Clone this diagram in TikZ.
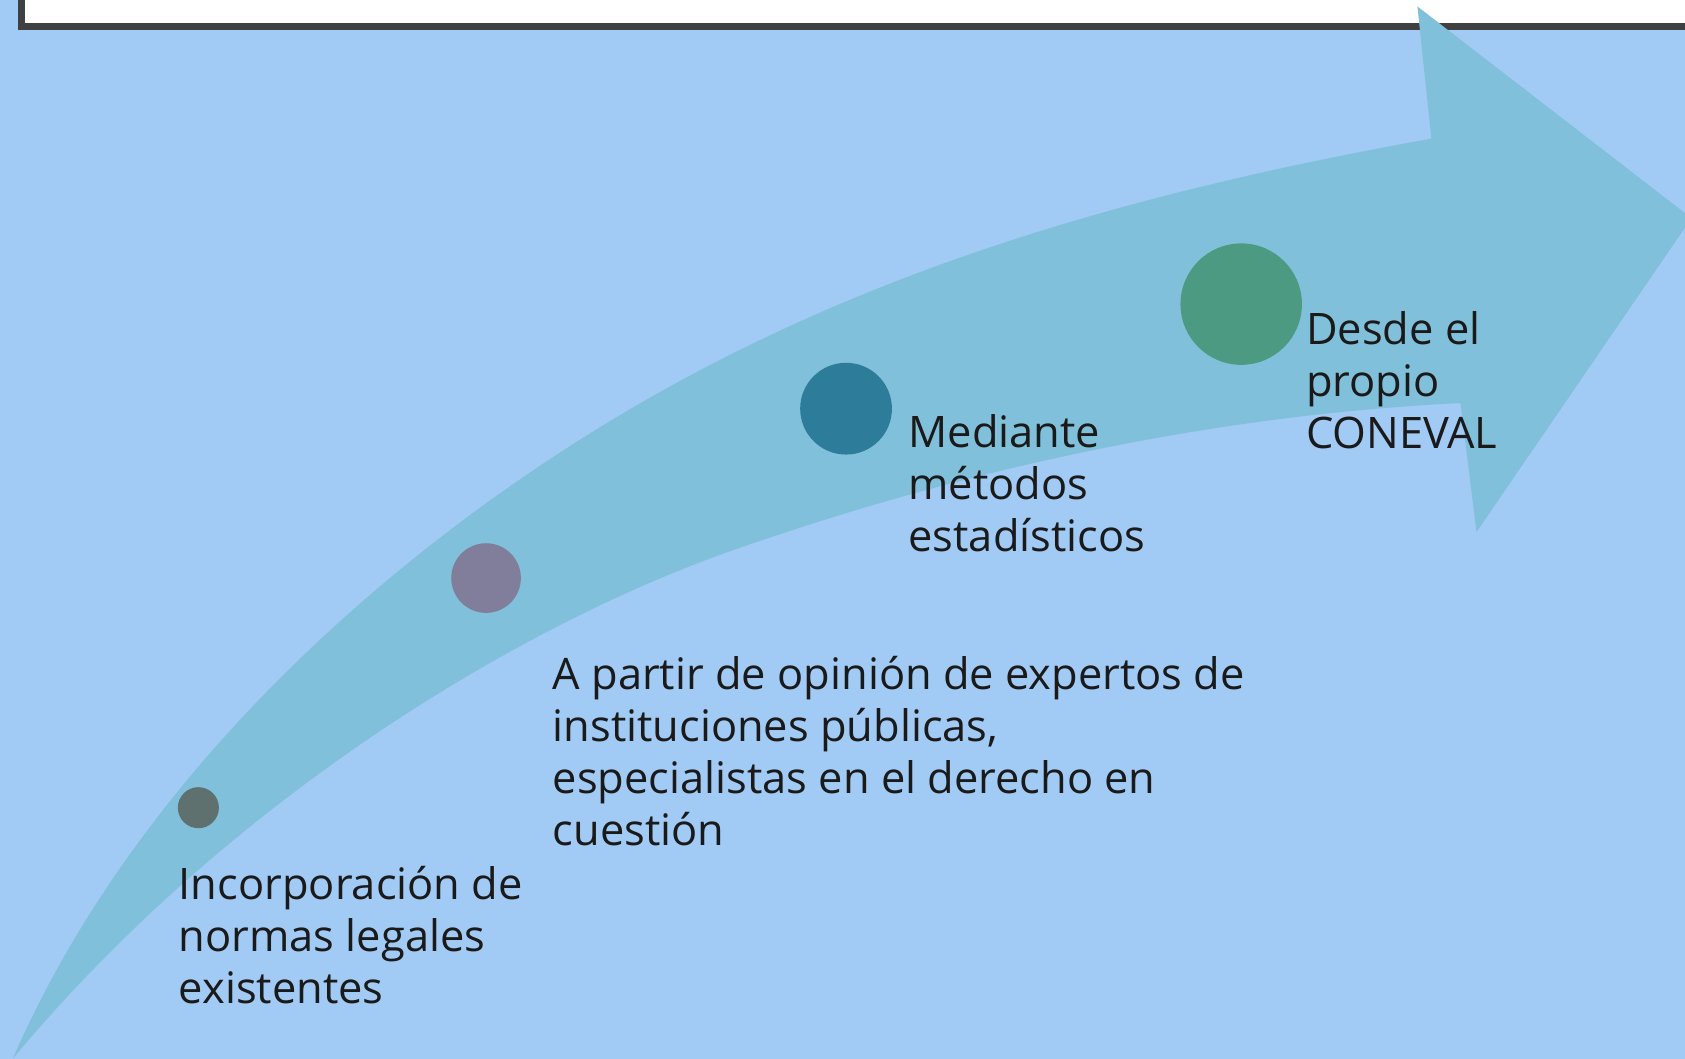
\documentclass[tikz,border=0pt]{standalone}
\usepackage{fontspec}
\setmainfont{Open Sans}
\definecolor{fondo}{HTML}{A1CAF4}
\definecolor{flecha}{HTML}{80C0DA}
\definecolor{borde}{HTML}{404040}
\definecolor{gris}{HTML}{5E716F}
\definecolor{lila}{HTML}{807E9A}
\definecolor{azul}{HTML}{2C7C9A}
\definecolor{verde}{HTML}{4C9A82}
\definecolor{tinta}{HTML}{1A1A1A}
\tikzset{
  punto/.style={circle,inner sep=0pt},
  etiqueta/.style={anchor=base west,align=left,inner sep=0pt,text=tinta,
    font=\fontsize{20.2}{24.2}\selectfont}
}
\begin{document}
\begin{tikzpicture}[x=0.5pt,y=-0.5pt]
\useasboundingbox (0,0) rectangle (1568,985);
\clip (0,0) rectangle (1568,985);
\fill[fondo] (0,0) rectangle (1568,985);
\draw[line width=3.25pt,draw=borde,fill=white] (20,-60) rectangle (1640,24.7);
% flecha curva
\coordinate (T) at (12,985);
\coordinate (S) at (605,370);
\coordinate (U) at (1332,129);
\coordinate (H1) at (1319,6);
\coordinate (H2) at (1574,203);
\coordinate (H3) at (1374,495);
\coordinate (L) at (1359,375);
\coordinate (M) at (682,512);
\fill[flecha] (T) .. controls (132,709) and (385,495) .. (S)
  .. controls (835,239) and (1082,174) .. (U) -- (H1) -- (H2) -- (H3) -- (L)
  .. controls (1139,386) and (912,431.5) .. (M)
  .. controls (482,582) and (212,745) .. (T) -- cycle;
% puntos
\node[punto,fill=gris,minimum size=19.1pt] (p1) at (184.6,751.6) {};
\node[punto,fill=lila,minimum size=32.4pt] (p2) at (452.3,537.9) {};
\node[punto,fill=azul,minimum size=42.7pt] (p3) at (787.3,380.3) {};
\node[punto,fill=verde,minimum size=56.5pt] (p4) at (1155,283) {};
% textos (base = ultima linea)
\node[etiqueta] (t1) at (166,933.4) {Incorporación de\\normas legales\\existentes};
\node[etiqueta] (t2) at (514,787.2) {A partir de opinión de expertos de\\instituciones públicas,\\especialistas en el derecho en\\cuestión};
\node[etiqueta] (t3) at (845,513.4) {Mediante\\métodos\\estadísticos};
\node[etiqueta] (t4) at (1215,417.8) {Desde el\\propio\\CONEVAL};
\end{tikzpicture}
\end{document}
